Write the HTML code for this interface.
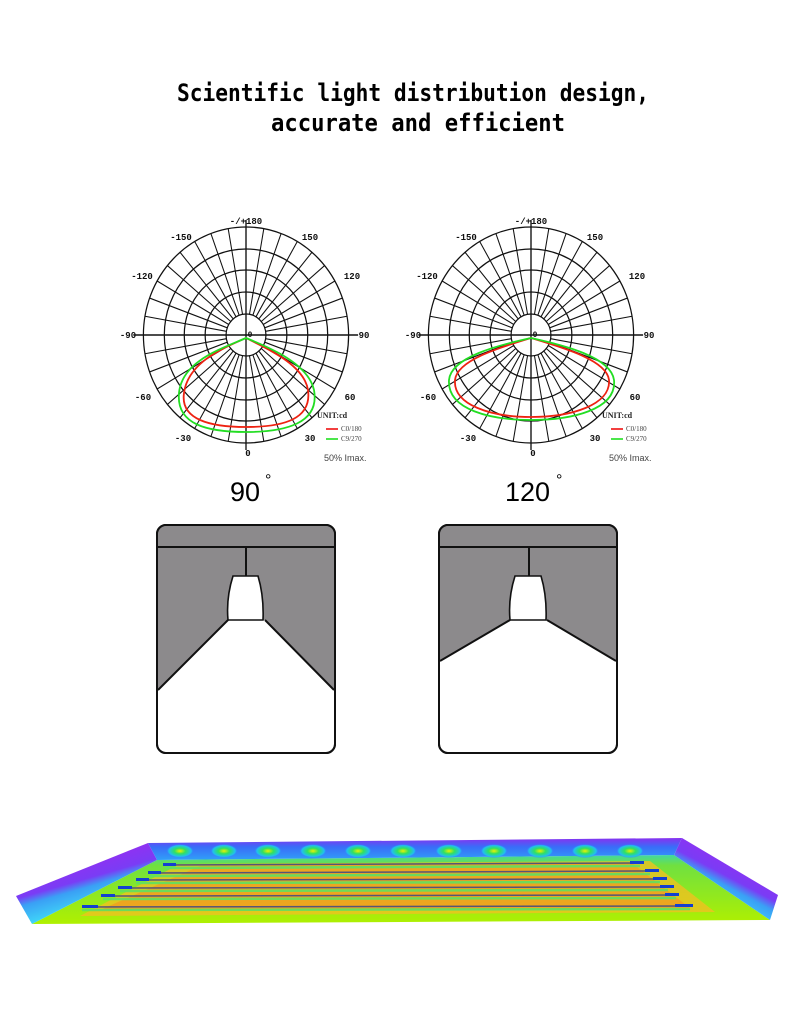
<!DOCTYPE html>
<html><head><meta charset="utf-8"><style>
html,body{margin:0;padding:0;background:#fff;}
svg{display:block;}
</style></head><body>
<svg width="800" height="1012" viewBox="0 0 800 1012" xmlns="http://www.w3.org/2000/svg" font-family="Liberation Sans, sans-serif">
<defs>
<g id="grid">
 <g transform="scale(0.95,1)">
 <g fill="none" stroke="#111" stroke-width="1.3">
  <circle r="108"/><circle r="86"/><circle r="65"/><circle r="43"/><circle r="21"/>
 </g>
 <g stroke="#111" stroke-width="1.1">
  <path id="rl" d="M0,-108V-21M0,21V108"/>
  <use href="#rl" transform="rotate(10)"/><use href="#rl" transform="rotate(20)"/><use href="#rl" transform="rotate(30)"/>
  <use href="#rl" transform="rotate(40)"/><use href="#rl" transform="rotate(50)"/><use href="#rl" transform="rotate(60)"/>
  <use href="#rl" transform="rotate(70)"/><use href="#rl" transform="rotate(80)"/><use href="#rl" transform="rotate(90)"/>
  <use href="#rl" transform="rotate(100)"/><use href="#rl" transform="rotate(110)"/><use href="#rl" transform="rotate(120)"/>
  <use href="#rl" transform="rotate(130)"/><use href="#rl" transform="rotate(140)"/><use href="#rl" transform="rotate(150)"/>
  <use href="#rl" transform="rotate(160)"/><use href="#rl" transform="rotate(170)"/>
  <path d="M-118,0H118M0,-115V115" stroke-width="1.4"/>
 </g>
 </g>
 <g font-size="9" font-weight="bold" fill="#111" text-anchor="middle" font-family="Liberation Mono, monospace">
  <text x="0" y="-111">-/+180</text>
  <text x="-65" y="-95">-150</text><text x="64" y="-95">150</text>
  <text x="-104" y="-56">-120</text><text x="106" y="-56">120</text>
  <text x="-118" y="3">-90</text><text x="118" y="3">90</text>
  <text x="-103" y="65">-60</text><text x="104" y="65">60</text>
  <text x="-63" y="106">-30</text><text x="64" y="106">30</text>
  <text x="2" y="121">0</text>
  <text x="4" y="2" font-size="8">0</text>
 </g>
 <g font-family="Liberation Serif, serif" font-size="7" fill="#444">
  <text x="71" y="83" font-weight="bold" font-size="8" fill="#222">UNIT:cd</text>
  <line x1="80" y1="94" x2="92" y2="94" stroke="#e00" stroke-width="1.5"/>
  <text x="95" y="96">C0/180</text>
  <line x1="80" y1="104" x2="92" y2="104" stroke="#1d1" stroke-width="1.5"/>
  <text x="95" y="106">C9/270</text>
  <text x="78" y="126" font-family="Liberation Sans, sans-serif" font-size="9">50% Imax.</text>
 </g>
</g>
<linearGradient id="lw" x1="0.3" y1="0.2" x2="0.6" y2="0.8"><stop offset="0" stop-color="#9a2cf0"/><stop offset="0.45" stop-color="#7a3cf5"/><stop offset="0.6" stop-color="#3aa0f5"/><stop offset="1" stop-color="#40e0f8"/></linearGradient>
<linearGradient id="rw" x1="0.7" y1="0.2" x2="0.3" y2="0.8"><stop offset="0" stop-color="#9a2cf0"/><stop offset="0.45" stop-color="#7a3cf5"/><stop offset="0.6" stop-color="#3aa0f5"/><stop offset="1" stop-color="#40e0f8"/></linearGradient>
<linearGradient id="bw" x1="0" y1="0" x2="0" y2="1"><stop offset="0" stop-color="#8a30f0"/><stop offset="0.4" stop-color="#3a6cf8"/><stop offset="1" stop-color="#30a0f8"/></linearGradient>
<linearGradient id="fl" x1="0" y1="0" x2="0" y2="1"><stop offset="0" stop-color="#40d8a0"/><stop offset="0.15" stop-color="#70e040"/><stop offset="1" stop-color="#b0f000"/></linearGradient>
<radialGradient id="spot"><stop offset="0" stop-color="#f0f000"/><stop offset="0.4" stop-color="#30e060"/><stop offset="0.8" stop-color="#20c0f0"/><stop offset="1" stop-color="#3a6cf8" stop-opacity="0"/></radialGradient>
</defs>

<text x="413" y="101" font-size="24" font-weight="bold" font-family="DejaVu Sans Mono, monospace" text-anchor="middle" textLength="472" lengthAdjust="spacingAndGlyphs" fill="#000">Scientific light distribution design,</text>
<text x="418" y="131" font-size="24" font-weight="bold" font-family="DejaVu Sans Mono, monospace" text-anchor="middle" textLength="294" lengthAdjust="spacingAndGlyphs" fill="#000">accurate and efficient</text>

<g transform="translate(246,335)">
 <use href="#grid"/>
 <path d="M0,3 C-25,14 -58,28 -62,58 C-66,85 -35,92 0,92 C38,92 66,84 62,55 C58,30 22,14 0,3Z" fill="none" stroke="#e21" stroke-width="1.8"/>
 <path d="M0,3 C-25,14 -64,26 -67,58 C-70,90 -38,97 0,97 C40,97 74,88 68,55 C62,28 22,12 0,3Z" fill="none" stroke="#2d2" stroke-width="1.8"/>
</g>
<g transform="translate(531,335)">
 <use href="#grid"/>
 <path d="M0,3 C-30,12 -74,25 -76,45 C-78,70 -40,82 0,82 C40,82 80,70 78,45 C76,25 30,12 0,3Z" fill="none" stroke="#e21" stroke-width="1.8"/>
 <path d="M0,3 C-32,10 -80,22 -82,45 C-84,75 -40,85 0,85 C40,85 86,75 83,45 C80,22 32,10 0,3Z" fill="none" stroke="#2d2" stroke-width="1.8"/>
</g>

<text x="230" y="501" font-size="27" fill="#000">90</text><text x="265" y="485" font-size="16" fill="#000">°</text>
<text x="505" y="501" font-size="27" fill="#000">120</text><text x="556" y="485" font-size="16" fill="#000">°</text>

<!-- room 1 -->
<g stroke="#111" stroke-width="2">
 <rect x="157" y="525" width="178" height="228" rx="9" fill="#fff"/>
 <path d="M158,547 H334 V690 L265,620 H228 L158,690Z" fill="#8c8a8c" stroke="none"/>
 <path d="M166,526 H326 Q334,526 334,534 V547 H158 V534 Q158,526 166,526Z" fill="#8c8a8c" stroke="none"/>
 <line x1="157" y1="547" x2="335" y2="547"/>
 <line x1="246" y1="547" x2="246" y2="576"/>
 <path d="M233,576 H258 Q264,596 263,620 H228 Q226,598 233,576Z" fill="#fff" stroke-width="1.6"/>
 <path d="M158,690 L228,620 M265,620 L334,690"/>
 <rect x="157" y="525" width="178" height="228" rx="9" fill="none"/>
</g>
<!-- room 2 -->
<g stroke="#111" stroke-width="2">
 <rect x="439" y="525" width="178" height="228" rx="9" fill="#fff"/>
 <path d="M440,547 H616 V661 L547,620 H510 L440,661Z" fill="#8c8a8c" stroke="none"/>
 <path d="M448,526 H608 Q616,526 616,534 V547 H440 V534 Q440,526 448,526Z" fill="#8c8a8c" stroke="none"/>
 <line x1="439" y1="547" x2="617" y2="547"/>
 <line x1="529" y1="547" x2="529" y2="576"/>
 <path d="M515,576 H541 Q547,596 546,620 H510 Q508,598 515,576Z" fill="#fff" stroke-width="1.6"/>
 <path d="M440,661 L510,620 M547,620 L616,661"/>
 <rect x="439" y="525" width="178" height="228" rx="9" fill="none"/>
</g>

<!-- heatmap -->
<polygon points="157,860 674,855 770,920 32,924" fill="url(#fl)"/>
<polygon points="180,864 650,861 715,912 80,916" fill="#f0c020" opacity="0.8"/>
<polygon points="200,866 632,863 690,908 100,910" fill="#f0a020" opacity="0.85"/>
<g stroke="#60e060" stroke-width="2.5" opacity="0.9">
 <line x1="165" y1="868" x2="640" y2="866"/>
 <line x1="150" y1="876" x2="650" y2="874"/>
 <line x1="136" y1="883" x2="660" y2="882"/>
 <line x1="120" y1="891" x2="668" y2="890"/>
 <line x1="103" y1="899" x2="676" y2="898"/>
 <line x1="82" y1="910" x2="690" y2="909"/>
</g>
<polygon points="148,843 682,838 674,855 157,860" fill="url(#bw)"/>
<polygon points="148,843 157,860 32,924 16,896" fill="url(#lw)"/>
<polygon points="682,838 778,895 770,920 674,855" fill="url(#rw)"/>
<g fill="url(#spot)">
 <ellipse cx="180" cy="851" rx="14" ry="7"/><ellipse cx="224" cy="851" rx="14" ry="7"/><ellipse cx="268" cy="851" rx="14" ry="7"/>
 <ellipse cx="313" cy="851" rx="14" ry="7"/><ellipse cx="358" cy="851" rx="14" ry="7"/><ellipse cx="403" cy="851" rx="14" ry="7"/>
 <ellipse cx="449" cy="851" rx="14" ry="7"/><ellipse cx="494" cy="851" rx="14" ry="7"/><ellipse cx="540" cy="851" rx="14" ry="7"/>
 <ellipse cx="585" cy="851" rx="14" ry="7"/><ellipse cx="630" cy="851" rx="14" ry="7"/>
</g>
<g stroke="#557" stroke-width="1.5">
 <line x1="163" y1="865" x2="640" y2="863"/>
 <line x1="150" y1="873" x2="650" y2="871"/>
 <line x1="136" y1="880" x2="660" y2="879"/>
 <line x1="120" y1="888" x2="668" y2="887"/>
 <line x1="103" y1="896" x2="676" y2="895"/>
 <line x1="82" y1="907" x2="690" y2="906"/>
</g>
<g fill="#1440d0">
 <rect x="163" y="863" width="13" height="3"/><rect x="148" y="871" width="13" height="3"/><rect x="136" y="878" width="13" height="3"/>
 <rect x="118" y="886" width="14" height="3"/><rect x="101" y="894" width="14" height="3"/><rect x="82" y="905" width="16" height="3"/>
 <rect x="630" y="861" width="14" height="3"/><rect x="645" y="869" width="14" height="3"/><rect x="653" y="877" width="14" height="3"/>
 <rect x="660" y="885" width="14" height="3"/><rect x="665" y="893" width="14" height="3"/><rect x="675" y="904" width="18" height="3"/>
</g>
</svg>
</body></html>
